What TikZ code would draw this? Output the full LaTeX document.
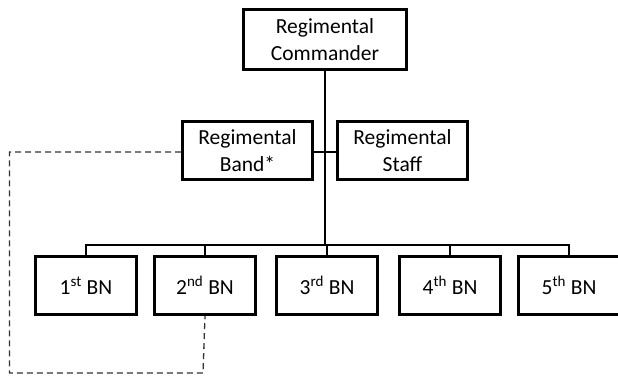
\documentclass[tikz,border=0pt]{standalone}
\usepackage{fontspec}
\setmainfont{Carlito}
\usetikzlibrary{shadows}
\begin{document}
\begin{tikzpicture}[x=1pt,y=-1pt,
  box/.style={draw=black, line width=2.6pt, fill=white, align=center, font=\fontsize{21.5}{27}\selectfont,
    inner sep=0pt, drop shadow={shadow xshift=1.2pt, shadow yshift=-1.2pt, opacity=0.25}},
  conn/.style={line width=1.7pt},
  dashlink/.style={line width=1.3pt, dash pattern=on 6pt off 4pt, black!80}]
\useasboundingbox (0,0) rectangle (618,377);
% top
\node[box, minimum width=163pt, minimum height=60pt] (cmd) at (325,39.5) {Regimental\\Commander};
\node[box, minimum width=130pt, minimum height=58pt] (band) at (247.5,150.5) {Regimental\\Band*};
\node[box, minimum width=130pt, minimum height=58pt] (staff) at (402.5,150.5) {Regimental\\Staff};
% bottom
\node[box, minimum width=101pt, minimum height=58pt] (b1) at (86,285.5) {1\textsuperscript{st} BN};
\node[box, minimum width=101pt, minimum height=58pt] (b2) at (205,285.5) {2\textsuperscript{nd} BN};
\node[box, minimum width=101pt, minimum height=58pt] (b3) at (327,285.5) {3\textsuperscript{rd} BN};
\node[box, minimum width=101pt, minimum height=58pt] (b4) at (450,285.5) {4\textsuperscript{th} BN};
\node[box, minimum width=101pt, minimum height=58pt] (b5) at (569,285.5) {5\textsuperscript{th} BN};
% connectors
\coordinate (bus) at (325,245);
\coordinate (mid) at (325,152);
\draw[conn] (cmd.south) -- (bus);
\draw[conn] (band.east |- mid) -- (staff.west |- mid);
\draw[conn] (b1.north) -- (b1.north |- bus) -- (b5.north |- bus) -- (b5.north);
\draw[conn] (b2.north) -- (b2.north |- bus);
\draw[conn] (b3.north) -- (b3.north |- bus);
\draw[conn] (b4.north) -- (b4.north |- bus);
% dashed link
\coordinate (dl) at (9.5,152);
\coordinate (dd) at (9.5,373);
\coordinate (dr) at (203,373);
\draw[dashlink] (band.west |- mid) -- (dl) -- (dd) -- (dr) -- (b2.south);
\end{tikzpicture}
\end{document}
